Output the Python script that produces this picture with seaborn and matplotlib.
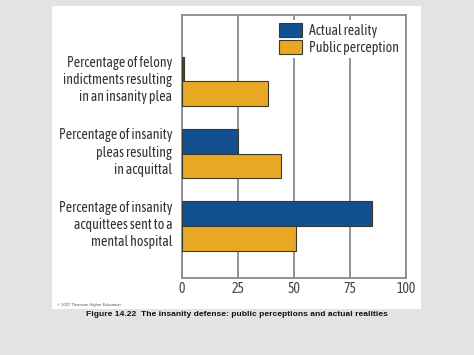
import matplotlib
matplotlib.use("Agg")
import matplotlib.pyplot as plt
import matplotlib.transforms as mtransforms
import seaborn as sns
import pandas as pd
from matplotlib.patches import Rectangle

categories = [
    "Percentage of felony\nindictments resulting\nin an insanity plea",
    "Percentage of insanity\npleas resulting\nin acquittal",
    "Percentage of insanity\nacquittees sent to a\nmental hospital",
]
actual_reality = [0.9, 25, 85]
public_perception = [38.5, 44, 51]
series_names = ["Actual reality", "Public perception"]
x_ticks = [0, 25, 50, 75, 100]

df = pd.DataFrame({
    "category": categories * 2,
    "value": actual_reality + public_perception,
    "series": [series_names[0]] * 3 + [series_names[1]] * 3,
})

sns.set_style("white")
plt.rcParams["font.family"] = ["Asap Condensed", "Archivo Narrow", "DejaVu Sans"]

fig = plt.figure(figsize=(4.74, 3.55), dpi=100, facecolor="#e3e3e3")
fig.patches.append(Rectangle((52 / 474, 1 - 309 / 355), (421 - 52) / 474, (309 - 6) / 355,
                             transform=fig.transFigure, facecolor="white", edgecolor="none", zorder=-10))
ax = fig.add_axes([182 / 474, 1 - 278 / 355, (406 - 182) / 474, (278 - 15) / 355])
ax.set_zorder(2)

palette = {series_names[0]: "#13508f", series_names[1]: "#e9a823"}
sns.barplot(data=df, x="value", y="category", hue="series", orient="h",
            palette=palette, width=0.68, ax=ax, saturation=1,
            edgecolor="#3a3a2a", linewidth=0.8, zorder=3)

ax.set_xlim(0, 100)
ax.set_ylim(2.72, -0.917)
ax.set_xticks(x_ticks)
ax.set_xticklabels([str(t) for t in x_ticks], fontsize=10, color="#444444")
ax.tick_params(axis="x", length=0, pad=3)
ax.tick_params(axis="y", length=0, pad=7)
ax.set_yticks(range(len(categories)))
ax.set_yticklabels(categories, fontsize=10, color="#333333", linespacing=1.3, ha="right",
                   va="center")
offset = mtransforms.ScaledTranslation(0, 0.8 / 72, fig.dpi_scale_trans)
for lab in ax.get_yticklabels():
    lab.set_transform(lab.get_transform() + offset)
ax.set_xlabel("")
ax.set_ylabel("")
ax.xaxis.grid(True, color="#8a8a8a", linewidth=1.3, zorder=1)
ax.yaxis.grid(False)
ax.set_axisbelow(True)
for s in ax.spines.values():
    s.set_visible(True)
    s.set_color("#8a8a8a")
    s.set_linewidth(1.3)

leg = ax.legend(loc="upper left", bbox_to_anchor=(0.42, 0.98), frameon=True, fontsize=10,
                handlelength=1.7, handleheight=1.15, handletextpad=0.5, labelspacing=0.2,
                borderaxespad=0.0, borderpad=0.2)
leg.get_frame().set_facecolor("white")
leg.get_frame().set_edgecolor("none")
leg.get_frame().set_alpha(1)
for t in leg.get_texts():
    t.set_color("#333333")

fig.text(57 / 474, 1 - 305 / 355, "\u00a9 2007 Thomson Higher Education", fontsize=3,
         color="#555555", family=["Liberation Sans", "DejaVu Sans"], va="center")
fig.text(237 / 474, 1 - 314.5 / 355,
         "Figure 14.22  The insanity defense: public perceptions and actual realities",
         fontsize=6.1, fontweight="bold", color="#111111", ha="center", va="center",
         family=["Liberation Sans", "DejaVu Sans"])

fig.savefig("out.png", dpi=100, facecolor=fig.get_facecolor())
